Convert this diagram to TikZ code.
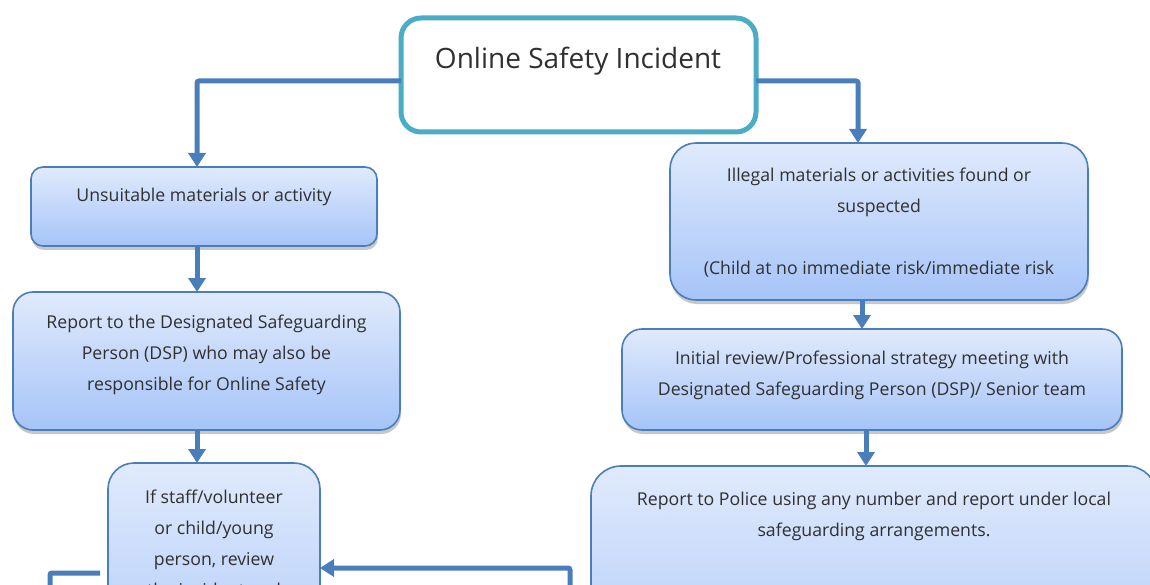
\documentclass[tikz,border=0pt]{standalone}
\usepackage{fontspec}
\setmainfont{Open Sans}
\usetikzlibrary{arrows.meta,shadows}
\definecolor{conncol}{HTML}{4A7EBB}
\definecolor{tealcol}{HTML}{4BACC6}
\definecolor{boxtop}{HTML}{E0EAFC}
\definecolor{boxbot}{HTML}{A6C4F8}
\definecolor{txtcol}{HTML}{303030}
\tikzset{
  bluebox/.style={draw=conncol, line width=1.6pt, top color=boxtop, bottom color=boxbot,
    inner sep=0pt, outer sep=0pt,
    drop shadow={shadow xshift=1pt, shadow yshift=-4pt, opacity=0.22, fill=black}},
  titlebox/.style={draw=tealcol, line width=5pt, fill=white, rounded corners=20pt,
    inner sep=0pt, outer sep=0pt},
  txt/.style={text=txtcol, align=center, inner sep=0pt, font=\fontsize{17.7}{31}\selectfont},
  conn/.style={draw=conncol, line width=5pt, rounded corners=2pt,
    -{Triangle[width=17pt,length=14pt]}},
  plainconn/.style={draw=conncol, line width=5pt, rounded corners=2pt}
}
\begin{document}
\begin{tikzpicture}[x=1pt,y=-1pt]
\useasboundingbox (0,0) rectangle (1150,585);
\clip (0,0) rectangle (1150,585);
% title
\node[titlebox, minimum width=355pt, minimum height=114pt] (top) at (578.5,75) {};
\node[text=txtcol, inner sep=0pt, font=\fontsize{28}{32}\selectfont] (topt) at (578,61) {Online Safety Incident};
% left column
\node[bluebox, rounded corners=12pt, minimum width=346pt, minimum height=79pt] (A) at (204,206.5) {};
\node[txt] (At) at (204,197) {Unsuitable materials or activity};
\node[bluebox, rounded corners=20pt, minimum width=387pt, minimum height=138pt] (B) at (206.5,361) {};
\node[txt] (Bt) at (206.5,355) {Report to the Designated Safeguarding\\Person (DSP) who may also be\\responsible for Online Safety};
\node[bluebox, rounded corners=26pt, minimum width=212pt, minimum height=260pt] (C) at (214,593) {};
\node[txt, anchor=north] (Ct) at (214,490) {If staff/volunteer\\or child/young\\person, review\\the incident and};
% right column
\node[bluebox, rounded corners=26pt, minimum width=418pt, minimum height=157pt] (D) at (879,221.5) {};
\node[txt, anchor=north] (Dt) at (879,168) {Illegal materials or activities found or\\suspected\\[31pt](Child at no immediate risk/immediate risk};
\node[bluebox, rounded corners=20pt, minimum width=500pt, minimum height=101pt] (E) at (872,379.5) {};
\node[txt] (Et) at (872,375.5) {Initial review/Professional strategy meeting with\\Designated Safeguarding Person (DSP)/ Senior team};
\node[bluebox, rounded corners=30pt, minimum width=566pt, minimum height=260pt] (F) at (874,596) {};
\node[txt, anchor=north] (Ft) at (874,492) {Report to Police using any number and report under local\\safeguarding arrangements.};
% connectors
\draw[conn] ([yshift=-6pt]top.west) -| ([xshift=-7pt]A.north);
\draw[conn] ([yshift=-6pt]top.east) -| ([xshift=-21pt]D.north);
\draw[conn] (A.south -| 197,0) -- (B.north -| 197,0);
\draw[conn] (B.south -| 197,0) -- (C.north -| 197,0);
\draw[conn] (D.south -| 862,0) -- (E.north -| 862,0);
\draw[conn] (E.south -| 866,0) -- (F.north -| 866,0);
\coordinate (rfree) at (570,620);
\coordinate (lfree) at (50,620);
\draw[conn] (rfree) |- (C.east |- 0,568);
\draw[plainconn] ([xshift=-8pt]C.west |- 0,573) -| (lfree);
\end{tikzpicture}
\end{document}
